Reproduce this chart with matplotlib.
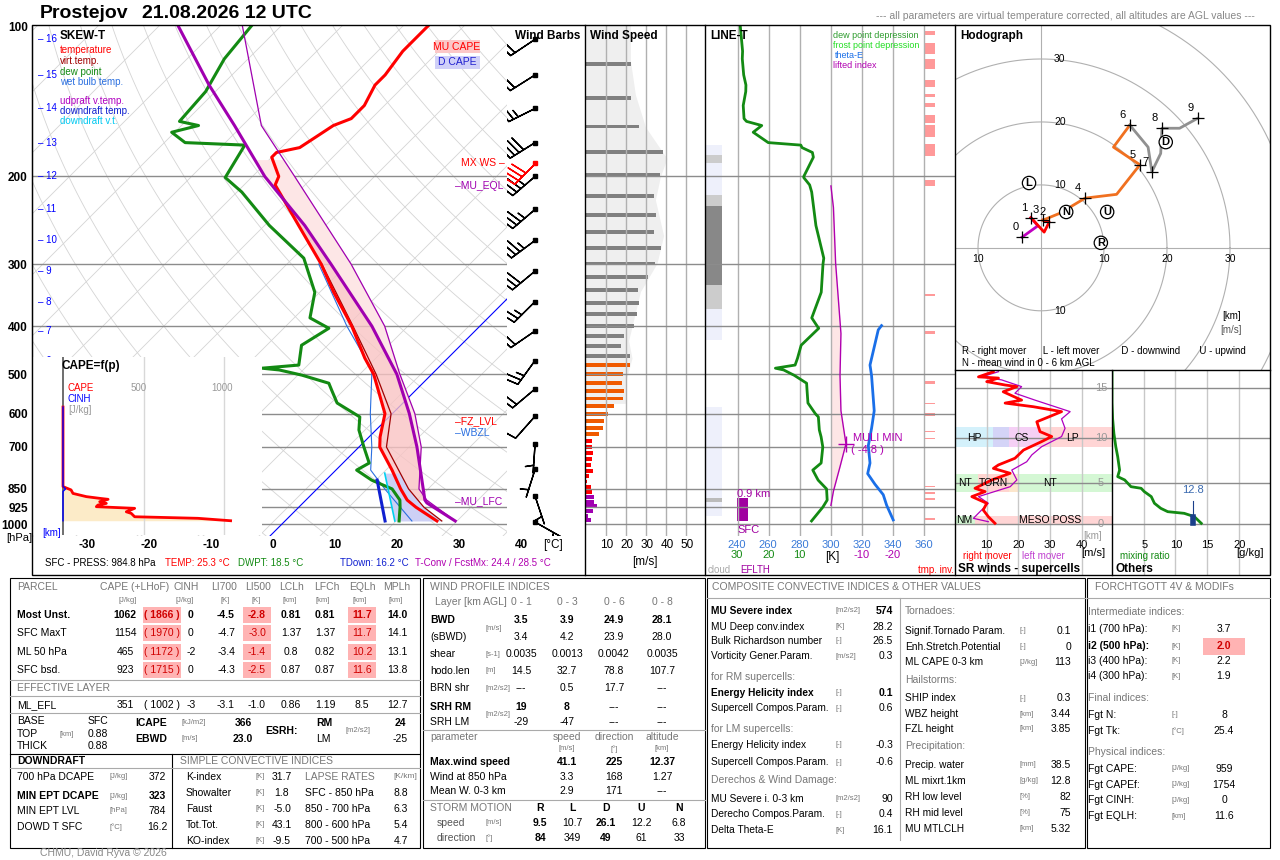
import numpy as np
import matplotlib
matplotlib.use('Agg')
import matplotlib.pyplot as plt
from matplotlib.patches import Rectangle

plt.rcParams['font.family'] = ['Liberation Sans', 'DejaVu Sans']

# ---------------- sounding data ----------------
temp_p = [986, 925, 895, 850, 779, 700, 668, 600, 500, 464, 400, 342, 300, 251, 208, 200,
          183, 179, 175, 165, 158, 153, 144, 131, 125, 112, 99]
temp_t = [26.7, 21.0, 18.4, 15.5, 11.0, 5.2, 3.6, 0.6, -7.7, -11.8, -19.2, -27.7, -34.4, -44.4,
          -54.9, -55.7, -60.0, -60.0, -57.0, -55.9, -55.1, -53.3, -53.3, -54.9, -54.9, -55.9, -55.9]
virt_p = [986, 925, 850, 700, 600, 500, 400, 300]
virt_t = [27.5, 22.3, 16.8, 6.3, 1.6, -7.3, -19.0, -34.3]
dew_p = [986, 925, 895, 850, 816, 779, 754, 700, 647, 609, 571, 538, 521, 502, 490, 486, 479,
         437, 404, 385, 342, 292, 251, 215, 201, 173, 171, 163, 158, 155, 135, 116, 99]
dew_t = [20.5, 18.4, 17.2, 14.1, 9.3, 5.2, 6.1, 2.6, -1.0, -3.0, -9.0, -12.0, -13.6, -19.3,
         -23.9, -27.0, -21.5, -24.3, -22.6, -27.4, -30.8, -38.2, -49.2, -59.2, -64.3, -66.4,
         -76.6, -80.5, -77.2, -81.0, -81.6, -83.9, -84.9]
wetb_p = [986, 850, 779, 700, 600, 490, 400, 300]
wetb_t = [22.6, 12.9, 7.5, 3.9, -1.8, -8.7, -20.0, -34.8]
parcel_p = [986, 907, 895, 700, 600, 500, 400, 300, 251, 200, 158, 131, 99]
parcel_t = [29.7, 22.1, 21.3, 11.3, 4.6, -3.9, -15.9, -32.8, -43.4, -58.0, -71.3, -82.1, -97.2]
parcel2_p = [986, 895, 850, 700, 600, 498, 400, 300, 200, 158, 99]
parcel2_t = [29.7, 21.6, 18.5, 12.0, 5.5, -3.6, -13.8, -29.5, -53.1, -66.9, -86.6]
down_p = [986, 816]
down_t = [18.2, 10.2]
downv_p = [986, 790]
downv_t = [19.8, 10.3]

km_levels = list(range(17))
km_p = [991, 879, 776, 690, 607, 535, 469, 409, 357, 310, 269, 233, 200, 171, 146, 125, 106]

capef_p = [582, 841, 854, 868, 881, 888, 892, 902, 909, 916, 923, 930, 945, 952, 967, 974, 985]
capef_v = [0, 0, 50, 62, 145, 228, 280, 228, 269, 217, 207, 445, 393, 424, 445, 838, 1041]
cinh_p = [582, 840, 850, 860, 985]
cinh_v = [0, 0, 16, 0, 0]

barb_u = [-3, -1.6, 1.3, 0.3, 7.0, 15.7, 14.1, 17.6, 19.2, 24.9, 27, 27, 28, 32, 22, 19, 18]
barb_v = [1.7, 4.8, 4.1, 4.4, 7.9, 13.2, 19.5, 12.1, 19.0, 20.6, 20, 23, 24, 20, 11, 12, 12]
mxws_p, mxws_u, mxws_v = 188, 29, 29

ws_p = [118.7, 139.1, 158.8, 178.5, 198.7, 219.0, 239.1, 258.5, 278.6, 299.1, 318.2, 338.5,
        359.5, 378.7, 399.4, 418.5, 438.7, 459.3, 479.0, 499.6, 520.5, 540.1, 559.4, 579.2,
        600.0, 621.1, 641.5, 659.0, 680.8, 700.5, 719.6, 740.0, 760.4, 781.9, 800.9, 821.2,
        843.7, 861.6, 881.6, 902.1, 919.4, 940.8, 962.7, 981.2]
ws_v = [22.7, 22.7, 26.7, 38.7, 37.2, 34.2, 35.2, 34.2, 37.7, 34.7, 31.2, 26.2, 26.7, 25.7,
        24.2, 19.2, 17.7, 22.2, 22.2, 18.7, 18.2, 19.2, 18.7, 14.2, 11.2, 9.2, 8.7, 6.7,
        3.2, 3.2, 3.7, 3.2, 2.7, 3.7, 1.7, 0.7, 2.7, 3.2, 4.2, 4.2, 5.7, 3.7, 1.2, 2.7]
env_p = [99, 117, 137, 159, 184, 200, 223, 263, 299, 341, 428, 464, 520, 572]
env_v = [22.2, 22.2, 24.7, 29.7, 40.5, 37.2, 34.7, 38.8, 35.5, 27.2, 21.3, 23.0, 19.7, 19.7]

thetae_p = [399, 407, 479, 503, 592, 642, 696, 754, 792, 832, 873, 917, 981]
thetae_k = [332.5, 330.4, 325.1, 326.1, 327.8, 326.1, 324.0, 325.1, 323.6, 328.3, 333.6, 335.8, 340.0]
li_p = [209, 231, 299, 414, 503, 592, 690, 767, 859, 917]
li_v = [0, -0.8, -1.5, -3.2, -2.9, -3.2, -4.8, -2.9, -0.8, 0]
cloud_layers = [(173, 427, '#eef0fb'), (582, 964, '#eef0fb'), (181, 188, '#cccccc'),
                (218, 370, '#cccccc'), (229, 330, '#888888'), (887, 903, '#bbbbbb')]
inversions = [(102.0, 104.1), (108.0, 113.4), (116.2, 121.6), (128.0, 131.9), (136.6, 138.5),
              (142.3, 145.3), (150.8, 156.3), (157.6, 166.3), (172.4, 181.6), (203.7, 209.3),
              (344.4, 347.4), (409.0, 413.9), (515.3, 523.6), (569.8, 574.3), (599.3, 606.0),
              (648.6, 654.1), (670.0, 675.7), (838.3, 843.6), (863.0, 870.0), (887.6, 896.0),
              (970.4, 981.2)]

hodo_h = [0, .5, 1, 1.5, 2, 3, 3.5, 4, 4.5, 5, 5.5, 6, 6.5, 7, 7.5, 8, 8.5, 9]
hodo_u = [-3, -0.5, -1.6, 0.5, 1.3, 0.3, 3.0, 7.0, 12.0, 15.7, 11.5, 14.1, 17.0, 17.6, 19.0, 19.2, 22.0, 24.9]
hodo_v = [1.7, 3.5, 4.8, 2.5, 4.1, 4.4, 5.5, 7.9, 8.5, 13.2, 16.0, 19.5, 16.0, 12.1, 15.0, 19.0, 19.0, 20.6]
motion_lbl = ['L', 'N', 'U', 'R', 'D']
motion_u = [-1.9, 4.0, 10.5, 9.5, 19.8]
motion_v = [10.3, 5.7, 5.7, 0.8, 16.8]

rm_p = [98, 106, 108, 114, 120, 123, 133, 151, 158, 167, 180, 210, 244, 263, 284, 323, 366,
        405, 427, 460, 509, 578, 608, 656, 726, 804, 890, 985]
rm_v = [12.1, 7.4, 13.7, 10.0, 15.8, 19.5, 15.2, 21.0, 15.8, 24.7, 33.6, 25.8, 26.8, 30.5,
        27.3, 21.6, 18.9, 13.7, 12.1, 17.4, 11.6, 6.3, 9.5, 5.3, 10.0, 8.9, 10.5, 12.6]
lm_p = [98, 106, 111, 123, 136, 151, 180, 201, 232, 263, 307, 348, 386, 438, 509, 564, 656,
        726, 804, 913, 961]
lm_v = [13.7, 8.4, 14.7, 21.0, 18.9, 25.2, 36.3, 33.6, 34.7, 33.6, 27.3, 24.2, 22.6, 17.9,
        19.5, 17.4, 7.4, 10.5, 8.4, 5.8, 10.5]
mr_p = [985, 890, 846, 825, 784, 726, 656, 608, 578, 564, 509, 484, 438, 357, 307, 251, 201, 158, 96]
mr_v = [14.1, 13.0, 11.4, 8.8, 7.7, 6.7, 6.2, 5.1, 4.6, 3.0, 2.0, 0.9, 1.2, 0.9, 0.6, 0.3, 0.1, 0.0, 0.0]

# ---------------- helpers ----------------
W, H = 1280, 860
SKEW = 35.4
fig = plt.figure(figsize=(W / 100, H / 100), dpi=100)


def px_axes(x0, y0, x1, y1, **kw):
    return fig.add_axes([x0 / W, 1 - y1 / H, (x1 - x0) / W, (y1 - y0) / H], **kw)


def t(x, y, s, size=7.5, color='black', ha='left', weight='normal', **kw):
    fig.text(x / W, 1 - y / H, s, fontsize=size, color=color, ha=ha, va='center',
             fontweight=weight, **kw)


def rect(x0, y0, x1, y1, fc='none', ec='black', lw=0.8, z=0):
    fig.add_artist(Rectangle((x0 / W, 1 - y1 / H), (x1 - x0) / W, (y1 - y0) / H,
                             transform=fig.transFigure, fc=fc, ec=ec, lw=lw, zorder=z))


def hline(x0, x1, y, color='#aaaaaa', lw=0.8):
    fig.add_artist(plt.Line2D([x0 / W, x1 / W], [1 - y / H] * 2, color=color, lw=lw))


def vline(x, y0, y1, color='black', lw=0.8):
    fig.add_artist(plt.Line2D([x / W] * 2, [1 - y0 / H, 1 - y1 / H], color=color, lw=lw))


def skx(tt, pp):
    return np.asarray(tt, float) + SKEW * np.log(1000 / np.asarray(pp, float))


def clean(ax):
    for s in ax.spines.values():
        s.set_visible(False)
    ax.minorticks_off()
    ax.set_xticks([])
    ax.set_yticks([])


def prof(pgrid, plist, tlist):
    return np.interp(np.log(pgrid), np.log(plist[::-1]), tlist[::-1])


P_BOT, P_TOP = 1057, 99.2
GRID_P = [200, 300, 400, 500, 600, 700, 850, 925, 1000]

# ---------------- skew-T ----------------
ax = px_axes(32, 25, 507, 536)
ax.set_yscale('log')
ax.set_ylim(P_BOT, P_TOP)
ax.set_xlim((32 - 271) / 6.1, (507 - 271) / 6.1)
pp = np.geomspace(1060, 95, 80)
for tt in range(-140, 60, 10):
    ax.plot(skx(tt, pp), pp, color='#d4d4d4', lw=0.6, zorder=1)
for th in range(250, 560, 10):
    ax.plot(skx(th * (pp / 1000) ** 0.286 - 273.15, pp), pp, color='#d4d4d4', lw=0.6, zorder=1)
for p in GRID_P:
    ax.axhline(p, color='#8c8c8c', lw=1, zorder=2)
pz = np.geomspace(1057, 250, 30)
ax.plot(skx(1.8, pz), pz, color='blue', lw=0.8, zorder=3)

# CAPE / D CAPE shading
gp = np.geomspace(895, 208, 120)
ax.fill_betweenx(gp, skx(prof(gp, temp_p, temp_t), gp), skx(prof(gp, parcel_p, parcel_t), gp),
                 color='#f9c4c4', alpha=0.8, lw=0, zorder=3)
gp2 = np.geomspace(895, 185, 120)
ax.fill_betweenx(gp2, skx(prof(gp2, parcel_p, parcel_t), gp2), skx(prof(gp2, parcel2_p, parcel2_t), gp2),
                 color='#fde6e6', lw=0, zorder=3)
gp3 = np.geomspace(986, 790, 30)
ax.fill_betweenx(gp3, skx(prof(gp3, downv_p, downv_t), gp3), skx(prof(gp3, virt_p, virt_t), gp3),
                 color='#cdd0f5', lw=0, zorder=3)

ax.plot(skx(wetb_t, wetb_p), wetb_p, color='#2a6fe0', lw=0.8, zorder=4)
ax.plot(skx(virt_t, virt_p), virt_p, color='#a00000', lw=0.9, zorder=4)
ax.plot(skx(temp_t, temp_p), temp_p, color='red', lw=2.2, zorder=5)
ax.plot(skx(dew_t, dew_p), dew_p, color='#138a13', lw=2.2, zorder=5)
ax.plot(skx(parcel2_t, parcel2_p), parcel2_p, color='#a000b0', lw=0.9, zorder=5)
ax.plot(skx(parcel_t, parcel_p), parcel_p, color='#a000b0', lw=2.2, zorder=5)
ax.plot(skx(downv_t, downv_p), downv_p, color='#00d0f0', lw=1.2, zorder=5)
ax.plot(skx(down_t, down_p), down_p, color='#1020d0', lw=2.2, zorder=5)
ax.minorticks_off()
ax.set_yticks([100, 200, 300, 400, 500, 600, 700, 850, 925, 1000])
ax.set_yticklabels(['100', '200', '300', '400', '500', '600', '700', '850', '925', '1000'],
                   fontsize=8.5, fontweight='bold')
ax.tick_params(axis='y', length=0, pad=3)
ax.set_xticks([])
for s in ['top', 'right', 'bottom']:
    ax.spines[s].set_visible(False)
for k, p in zip(km_levels, km_p):
    ax.text(0.012, p, f'– {k}', transform=ax.get_yaxis_transform(), color='blue', fontsize=7,
            va='center', zorder=8)

# CAPE=f(p) inset
axc = px_axes(33, 357, 262, 535)
axc.set_yscale('log')
axc.set_ylim(1000 * np.exp(-(524 - 535) / 216), 1000 * np.exp(-(524 - 357) / 216))
axc.set_xlim(-30 / 0.161, 199 / 0.161)
axc.set_facecolor('white')
for v in [500, 1000]:
    axc.axvline(v, color='#d8d8d8', lw=1)
axc.axvline(0, color='#555555', lw=1.2)
axc.fill_betweenx(capef_p, 0, capef_v, color='#fcebc8', lw=0)
axc.plot(capef_v, capef_p, color='red', lw=2)
axc.plot(cinh_v, cinh_p, color='blue', lw=1)
clean(axc)

# wind barbs
axb = px_axes(507, 25, 585, 536)
axb.set_yscale('log')
axb.set_ylim(P_BOT, P_TOP)
axb.set_xlim(0, 1)
bsz = dict(spacing=0.18, height=0.55, width=0.25)
axb.barbs([0.36] * len(km_p), km_p, barb_u, barb_v, length=6.5, lw=1.0, pivot='tip', sizes=bsz,
          barb_increments=dict(half=5, full=10, flag=50))
axb.barbs([0.36], [mxws_p], [mxws_u], [mxws_v], length=6.5, lw=1.0, color='red', pivot='tip', sizes=bsz)
axb.plot([0.36] * len(km_p), km_p, 'ks', ms=3)
axb.plot([0.36], [mxws_p], 's', color='red', ms=3)
clean(axb)

# wind speed
axw = px_axes(585, 25, 705, 536)
axw.set_yscale('log')
axw.set_ylim(P_BOT, P_TOP)
axw.set_xlim(-0.5, 59.5)
axw.fill_betweenx(env_p, 0, env_v, color='#efefef', lw=0)
for v in [10, 20, 30, 40, 50]:
    axw.axvline(v, color='#b0b0b0', lw=1)
for p in GRID_P:
    axw.axhline(p, color='#8c8c8c', lw=1)
for p, v in zip(ws_p, ws_v):
    c = '#808080' if p < 470 else ('#f05a00' if p < 670 else ('red' if p < 870 else '#a000b0'))
    axw.barh(p, v, height=p * 0.017, color=c, left=0)
clean(axw)
for v in [10, 20, 30, 40, 50]:
    t(587 + 2 * v, 545, str(v), size=8.5, ha='center')
t(645, 562, '[m/s]', size=8.5, ha='center')

# LINE-T
axl = px_axes(705, 25, 955, 536)
axl.set_yscale('log')
axl.set_ylim(P_BOT, P_TOP)
axl.set_xlim(219.1, 379.7)
for v in range(240, 380, 20):
    axl.axvline(v, color='#b0b0b0', lw=1)
for p in GRID_P:
    axl.axhline(p, color='#8c8c8c', lw=1)
for p0, p1, c in cloud_layers:
    axl.fill_between([219.1, 230.0], p0, p1, color=c, lw=0)
for p0, p1 in inversions:
    axl.fill_between([359.7, 366.8], p0, p1, color='#f99', lw=0)
axl.fill_between([239.6, 246.7], 887, 986, color='#a000a0', lw=0)
# dew point depression from the temperature and dew point profiles
allp = np.array(sorted(set(temp_p) | set(dew_p), reverse=True), float)
dd = prof(allp, temp_p, temp_t) - prof(allp, dew_p, dew_t)
axl.fill_betweenx(li_p, 300, 300 - 2.011 * np.array(li_v), color='#fde6e6', lw=0)
axl.plot(300 - 2.011 * dd, allp, color='#138a13', lw=2)
axl.plot(300 - 2.011 * np.array(li_v), li_p, color='#b000b0', lw=1)
axl.plot(thetae_k, thetae_p, color='#1a6fe8', lw=2)
axl.plot([309.7], [690], '+', color='#b000b0', ms=12, mew=1)
clean(axl)
for v in range(240, 380, 20):
    t(737 + (v - 240) * 1.5567, 545, str(v), size=8, color='#3a7ad8', ha='center')
for v, lab in zip([240, 260, 280], ['30', '20', '10']):
    t(737 + (v - 240) * 1.5567, 555, lab, size=8, color='#138a13', ha='center')
for v, lab in zip([320, 340], ['-10', '-20']):
    t(737 + (v - 240) * 1.5567, 555, lab, size=8, color='#b000b0', ha='center')
t(832, 557, '[K]', size=8.5, ha='center')
t(708, 570, 'cloud', size=7, color='#aaaaaa')
t(740, 570, 'EFLTH', size=7, color='#a000a0')
t(918, 570, 'tmp. inv.', size=7, color='red')
t(737, 494, '0.9 km', size=8, color='#a000a0')
t(737, 530, 'SFC', size=8, color='#a000a0')
t(853, 438, 'MULI MIN', size=8, color='#b000b0')
t(851, 450, '( -4.8 )', size=8, color='#b000b0')
t(833, 35, 'dew point depression', size=6.5, color='#2e9c2e')
t(833, 45, 'frost point depression', size=6.5, color='#22dd22')
t(835, 55, 'theta-E', size=6.5, color='#1a6fe8')
t(833, 65, 'lifted index', size=6.5, color='#b000b0')

# hodograph
axh = px_axes(955, 25, 1270, 370)
axh.set_xlim(-13.65, 36.35)
axh.set_ylim(-19.4, 35.4)
ang = np.linspace(0, 2 * np.pi, 200)
for r in [10, 20, 30, 40]:
    axh.plot(r * np.cos(ang), r * np.sin(ang), color='#b0b0b0', lw=0.8)
axh.axhline(0, color='#b0b0b0', lw=0.8)
axh.axvline(0, color='#b0b0b0', lw=0.8)
hh = np.array(hodo_h)
for lo, hi, c in [(0, 1, '#c000c0'), (1, 3, 'red'), (3, 6, '#f07020'), (6, 9, '#909090')]:
    m = (hh >= lo) & (hh <= hi)
    axh.plot(np.array(hodo_u)[m], np.array(hodo_v)[m], color=c, lw=2)
for h, u, v in zip(hodo_h, hodo_u, hodo_v):
    if float(h).is_integer():
        axh.plot(u, v, '+', color='black', ms=9, mew=0.9)
        axh.text(u - 0.6, v + 0.8, str(int(h)), fontsize=8, ha='right', va='bottom')
for lab, u, v in zip(motion_lbl, motion_u, motion_v):
    axh.text(u, v, lab, fontsize=8, ha='center', va='center', fontweight='bold',
             bbox=dict(boxstyle='circle,pad=0.15', fc='white', ec='black', lw=0.9))
for r in [10, 20, 30]:
    axh.text(3, r, str(r), fontsize=7.5, ha='center', va='center')
axh.text(3, -10, '10', fontsize=7.5, ha='center', va='center')
for u in [-10, 10, 20, 30]:
    axh.text(u, -1.8, str(abs(u)), fontsize=7.5, ha='center', va='center')
clean(axh)
t(960, 36, 'Hodograph', size=8.5, weight='bold')
t(1222, 316, '[km]', size=7)
t(1220, 330, '[m/s]', size=7, color='#555555')
t(962, 351, 'R - right mover      L - left mover        D - downwind       U - upwind', size=7)
t(962, 363, 'N - mean wind in 0 - 6 km AGL', size=7)

# SR winds
SR_BOT, SR_TOP = 2163, 95.5
axs = px_axes(955, 370, 1112, 575)
axs.set_yscale('log')
axs.set_ylim(SR_BOT, SR_TOP)
axs.set_xlim(0, 49.5)
for p0, p1, x0, x1, c in [(228.5, 309.8, 0, 12.1, '#d4f1fb'), (228.5, 309.8, 12.1, 17, '#d4d4f7'),
                          (228.5, 309.8, 17, 26.8, '#f5d0f5'), (228.5, 309.8, 26.8, 49.5, '#ffd5d5'),
                          (465, 609, 0, 7.4, '#d4f7d4'), (465, 609, 7.4, 17, '#ffd5d0'),
                          (465, 609, 17, 20, '#fce6cc'), (465, 609, 20, 49.5, '#d4f7d4'),
                          (877, 991, 0, 6.3, '#d4f7d4'), (877, 991, 6.3, 49.5, '#ffd5d5')]:
    axs.fill_between([x0, x1], p0, p1, color=c, lw=0)
for v in [10, 20, 30, 40]:
    axs.axvline(v, color='#c8c8c8', lw=1)
for k in [0, 5, 10, 15]:
    axs.axhline(km_p[k], color='#8c8c8c', lw=1)
    axs.text(46, km_p[k], str(k), color='#999999', fontsize=8, ha='center', va='center')
axs.plot(lm_v, lm_p, color='#b000c0', lw=0.9)
axs.plot(rm_v, rm_p, color='red', lw=2)
for s, x, p in [('HP', 6, 268), ('CS', 21, 268), ('LP', 37, 268), ('NT', 3, 532), ('TORN', 12, 532),
                ('NT', 30, 532), ('NM', 3, 935), ('MESO POSS', 30, 935)]:
    axs.text(x, p, s, fontsize=7.5, ha='center', va='center')
clean(axs)
for v in [10, 20, 30, 40]:
    t(955 + 3.17 * v, 545, str(v), size=8, ha='center')
t(1093, 536, '[km]', size=7, color='#999999', ha='center')
t(1093, 553, '[m/s]', size=8, ha='center')
t(963, 556, 'right mover', size=7, color='red')
t(1022, 556, 'left mover', size=7, color='#c040d0')
t(958, 569, 'SR winds - supercells', size=8.5, weight='bold')

# Others
axo = px_axes(1112, 370, 1270, 575)
axo.set_yscale('log')
axo.set_ylim(SR_BOT, SR_TOP)
axo.set_xlim(0, 24.95)
for v in [5, 10, 15, 20]:
    axo.axvline(v, color='#c8c8c8', lw=1)
for k in [0, 5, 10, 15]:
    axo.axhline(km_p[k], color='#8c8c8c', lw=1)
axo.plot(mr_v, mr_p, color='#138a13', lw=2)
axo.plot([12.8, 12.8], [895, 985], color='#1a3f8a', lw=4)
axo.plot([12.8, 12.8], [700, 895], color='#1a3f8a', lw=0.8)
axo.text(12.8, 640, '12.8', color='#3a6ab0', fontsize=8, ha='center', va='bottom')
clean(axo)
for v in [5, 10, 15, 20]:
    t(1112.7 + 6.33 * v, 545, str(v), size=8, ha='center')
t(1250, 553, '[g/kg]', size=8, ha='center')
t(1120, 556, 'mixing ratio', size=7, color='#138a13')
t(1115, 569, 'Others', size=8.5, weight='bold')

# frames
rect(32, 25, 1270, 575, lw=1, z=5)
for x in [585, 705, 955]:
    vline(x, 25, 575, lw=1)
hline(955, 1270, 370, color='black', lw=1)
vline(1112, 370, 575, lw=1)

# skew-T texts
t(40, 13, 'Prostejov', size=14, weight='bold')
t(142, 13, '21.08.2026 12 UTC', size=14, weight='bold')
t(1255, 16, '--- all parameters are virtual temperature corrected, all altitudes are AGL values ---',
  size=7.5, color='#888888', ha='right')
t(60, 36, 'SKEW-T', size=8.5, weight='bold')
for y, s, c in [(50, 'temperature', 'red'), (61, 'virt.temp.', '#a00000'), (72, 'dew point', '#138a13'),
                (82, 'wet bulb temp.', '#2a6fe0'), (101, 'udpraft v.temp.', '#b000c0'),
                (111, 'downdraft temp.', '#1020d0'), (121, 'downdraft v.t.', '#00c8f0')]:
    t(60, y, s, size=7, color=c)
rect(435, 40, 480, 53, fc='#fcc8c8', ec='none', z=6)
t(457, 47, 'MU CAPE', size=7.5, color='red', ha='center', zorder=7)
rect(435, 56, 480, 69, fc='#d0d0f8', ec='none', z=6)
t(457, 62, 'D CAPE', size=7.5, color='#2020d0', ha='center', zorder=7)
t(515, 36, 'Wind Barbs', size=8.5, weight='bold')
t(590, 36, 'Wind Speed', size=8.5, weight='bold')
t(710, 36, 'LINE-T', size=8.5, weight='bold')
t(62, 366, 'CAPE=f(p)', size=8.5, weight='bold')
t(68, 388, 'CAPE', size=7, color='red')
t(68, 399, 'CINH', size=7, color='blue')
t(68, 410, '[J/kg]', size=7, color='#999999')
t(139, 388, '500', size=7, color='#999999', ha='center')
t(222, 388, '1000', size=7, color='#999999', ha='center')
t(461, 163, 'MX WS –', size=7.5, color='red')
t(455, 186, '–MU_EQL', size=7.5, color='#a000b0')
t(455, 421, '–FZ_LVL', size=7.5, color='red')
t(455, 433, '–WBZL', size=7.5, color='#2a6fe0')
t(455, 501, '–MU_LFC', size=7.5, color='#a000b0')
t(6, 538, '[hPa]', size=8)
t(42, 533, '[km]', size=7, color='blue')
for k, x in zip(range(-30, 50, 10), range(87, 530, 62)):
    t(x, 545, str(k), size=8.5, weight='bold', ha='center')
t(553, 545, '[°C]', size=8.5, ha='center')
t(45, 563, 'SFC - PRESS: 984.8 hPa', size=7)
t(165, 563, 'TEMP: 25.3 °C', size=7, color='red')
t(238, 563, 'DWPT: 18.5 °C', size=7, color='#138a13')
t(340, 563, 'TDown: 16.2 °C', size=7, color='#1020d0')
t(415, 563, 'T-Conv / FcstMx: 24.4 / 28.5 °C', size=7, color='#b000b0')

# ---------------- tables ----------------
G = '#777777'
US = 5.5
rect(10, 578, 420, 848)
rect(423, 578, 705, 848)
rect(707, 578, 1085, 848)
rect(1087, 578, 1270, 848)

# parcel block
t(17, 587, 'PARCEL', color=G)
for x, s in [(135, 'CAPE (+LHoF)'), (186, 'CINH'), (224, 'LI700'), (258, 'LI500'), (292, 'LCLh'),
             (327, 'LFCh'), (362, 'EQLh'), (397, 'MPLh')]:
    t(x, 587, s, color=G, ha='center')
for x, s in [(128, '[J/kg]'), (185, '[J/kg]'), (225, '[K]'), (256, '[K]'), (290, '[km]'), (323, '[km]'),
             (360, '[km]'), (396, '[km]')]:
    t(x, 600, s, color=G, size=US, ha='center')
cols = [125, 162, 191, 226, 257, 291, 325, 362, 397]
parcel_rows = [('Most Unst.', ['1062', '( 1866 )', '0', '-4.5', '-2.8', '0.81', '0.81', '11.7', '14.0']),
               ('SFC MaxT', ['1154', '( 1970 )', '0', '-4.7', '-3.0', '1.37', '1.37', '11.7', '14.1']),
               ('ML 50 hPa', ['465', '( 1172 )', '-2', '-3.4', '-1.4', '0.8', '0.82', '10.2', '13.1']),
               ('SFC bsd.', ['923', '( 1715 )', '0', '-4.3', '-2.5', '0.87', '0.87', '11.6', '13.8'])]
for i, (name, vals) in enumerate(parcel_rows):
    y = 615 + 18.3 * i
    w = 'bold' if i == 0 else 'normal'
    t(17, y, name, weight=w)
    for j, (x, v) in enumerate(zip(cols, vals)):
        if j in (1, 4, 7):
            hw = 19 if j == 1 else 14
            rect(x - hw, y - 8, x + hw, y + 8, fc='#ffb3b3', ec='none')
            t(x, y, v, ha='center', color='#d00000', weight=w)
        else:
            t(x, y, v, ha='center', weight=w)
hline(10, 420, 680)
t(17, 688, 'EFFECTIVE LAYER', color=G)
hline(10, 420, 696)
t(17, 705, 'ML_EFL')
for x, v in zip(cols, ['351', '( 1002 )', '-3', '-3.1', '-1.0', '0.86', '1.19', '8.5', '12.7']):
    t(x, 705, v, ha='center')
hline(10, 420, 713)
t(17, 721, 'BASE'); t(98, 721, 'SFC', ha='center')
t(17, 734, 'TOP'); t(60, 734, '[km]', size=US, color=G); t(98, 734, '0.88', ha='center')
t(17, 746, 'THICK'); t(98, 746, '0.88', ha='center')
t(135, 723, 'ICAPE', weight='bold'); t(182, 723, '[kJ/m2]', size=US, color=G); t(243, 723, '366', weight='bold', ha='center')
t(135, 739, 'EBWD', weight='bold'); t(182, 739, '[m/s]', size=US, color=G); t(243, 739, '23.0', weight='bold', ha='center')
t(265, 731, 'ESRH:', weight='bold'); t(316, 723, 'RM', weight='bold'); t(316, 739, 'LM')
t(345, 731, '[m2/s2]', size=US, color=G); t(400, 723, '24', weight='bold', ha='center'); t(400, 739, '-25', ha='center')
hline(10, 420, 754, color='black')
vline(172, 754, 848)
t(17, 761, 'DOWNDRAFT', weight='bold')
t(180, 761, 'SIMPLE CONVECTIVE INDICES', color=G)
hline(10, 420, 768)
for y, n, u, v, w in [(777, '700 hPa DCAPE', '[J/kg]', '372', 'normal'), (796, 'MIN EPT DCAPE', '[J/kg]', '323', 'bold'),
                      (811, 'MIN EPT LVL', '[hPa]', '784', 'normal'), (827, 'DOWD T SFC', '[°C]', '16.2', 'normal')]:
    t(17, y, n, weight=w); t(110, y, u, size=US, color=G); t(157, y, v, weight=w, ha='center')
for y, n, v, ln, lv in [(777, 'K-index', '31.7', 'LAPSE RATES', ''), (793, 'Showalter', '1.8', 'SFC - 850 hPa', '8.8'),
                        (809, 'Faust', '-5.0', '850 - 700 hPa', '6.3'), (825, 'Tot.Tot.', '43.1', '800 - 600 hPa', '5.4'),
                        (841, 'KO-index', '-9.5', '700 - 500 hPa', '4.7')]:
    t(186, y, n); t(256, y, '[K]', size=US, color=G); t(282, y, v, ha='center')
    t(305, y, ln, color=G if lv == '' else 'black'); t(401, y, lv, ha='center')
t(393, 777, '[K/km]', size=6, color=G)

# wind profile block
t(430, 587, 'WIND PROFILE INDICES', color=G)
t(435, 602, 'Layer [km AGL]', color=G)
wcols = [521, 567, 614, 662]
for x, s in zip(wcols, ['0 - 1', '0 - 3', '0 - 6', '0 - 8']):
    t(x, 602, s, color=G, ha='center')
for y, n, u, vals, w in [(620, 'BWD', '', ['3.5', '3.9', '24.9', '28.1'], 'bold'),
                         (637, '(sBWD)', '', ['3.4', '4.2', '23.9', '28.0'], 'normal'),
                         (654, 'shear', '[s-1]', ['0.0035', '0.0013', '0.0042', '0.0035'], 'normal'),
                         (671, 'hodo.len', '[m]', ['14.5', '32.7', '78.8', '107.7'], 'normal'),
                         (688, 'BRN shr', '[m2/s2]', ['---', '0.5', '17.7', '---'], 'normal'),
                         (707, 'SRH RM', '', ['19', '8', '---', '---'], 'bold'),
                         (722, 'SRH LM', '', ['-29', '-47', '---', '---'], 'normal')]:
    t(430, y, n, weight=w)
    t(485, y, u, size=US, color=G)
    for j, (x, v) in enumerate(zip(wcols, vals)):
        ww = 'bold' if (w == 'bold' and (n == 'BWD' or j < 2)) else 'normal'
        t(x, y, v, ha='center', weight=ww)
t(485, 629, '[m/s]', size=US, color=G)
t(485, 714, '[m2/s2]', size=US, color=G)
hline(423, 705, 730)
t(430, 737, 'parameter', color=G)
for x, s, u in zip(wcols[1:], ['speed', 'direction', 'altitude'], ['[m/s]', '[°]', '[km]']):
    t(x, 737, s, color=G, ha='center'); t(x, 749, u, size=US, color=G, ha='center')
for y, n, vals, w in [(762, 'Max.wind speed', ['41.1', '225', '12.37'], 'bold'),
                      (777, 'Wind at 850 hPa', ['3.3', '168', '1.27'], 'normal'),
                      (791, 'Mean W. 0-3 km', ['2.9', '171', '---'], 'normal')]:
    t(430, y, n, weight=w)
    for x, v in zip(wcols[1:], vals):
        t(x, y, v, ha='center', weight=w)
hline(423, 705, 800)
t(430, 808, 'STORM MOTION', color=G)
mcols = [540, 572, 606, 641, 679]
for x, s in zip(mcols, ['R', 'L', 'D', 'U', 'N']):
    t(x, 808, s, weight='bold', ha='center')
for y, n, u, vals in [(823, 'speed', '[m/s]', ['9.5', '10.7', '26.1', '12.2', '6.8']),
                      (838, 'direction', '[°]', ['84', '349', '49', '61', '33'])]:
    t(437, y, n, color='#555555'); t(485, y, u, size=US, color=G)
    for j, (x, v) in enumerate(zip(mcols, vals)):
        t(x, y, v, ha='center', weight='bold' if j in (0, 2) else 'normal')

# composite block
t(712, 587, 'COMPOSITE CONVECTIVE INDICES & OTHER VALUES', color=G)
hline(707, 1085, 598)
vline(900, 598, 840, color='#aaaaaa')
left_rows = [(611, 'MU Severe index', '[m2/s2]', '574', 'bold'), (627, 'MU Deep conv.index', '[K]', '28.2', 'normal'),
             (641, 'Bulk Richardson number', '[-]', '26.5', 'normal'), (656, 'Vorticity Gener.Param.', '[m/s2]', '0.3', 'normal'),
             (677, 'for RM supercells:', None, '', 'normal'), (693, 'Energy Helicity index', '[-]', '0.1', 'bold'),
             (708, 'Supercell Compos.Param.', '[-]', '0.6', 'normal'), (729, 'for LM supercells:', None, '', 'normal'),
             (745, 'Energy Helicity index', '[-]', '-0.3', 'normal'), (762, 'Supercell Compos.Param.', '[-]', '-0.6', 'normal'),
             (780, 'Derechos & Wind Damage:', None, '', 'normal'), (799, 'MU Severe i. 0-3 km', '[m2/s2]', '90', 'normal'),
             (814, 'Derecho Compos.Param.', '[-]', '0.4', 'normal'), (830, 'Delta Theta-E', '[K]', '16.1', 'normal')]
right_rows = [(611, 'Tornadoes:', None, ''), (631, 'Signif.Tornado Param.', '[-]', '0.1'),
              (647, 'Enh.Stretch.Potential', '[-]', '0'), (662, 'ML CAPE 0-3 km', '[J/kg]', '113'),
              (680, 'Hailstorms:', None, ''), (698, 'SHIP index', '[-]', '0.3'), (714, 'WBZ height', '[km]', '3.44'),
              (729, 'FZL height', '[km]', '3.85'), (746, 'Precipitation:', None, ''), (765, 'Precip. water', '[mm]', '38.5'),
              (781, 'ML mixrt.1km', '[g/kg]', '12.8'), (797, 'RH low level', '[%]', '82'),
              (813, 'RH mid level', '[%]', '75'), (829, 'MU MTLCLH', '[km]', '5.32')]
for y, n, u, v, w in left_rows:
    if u is None:
        t(711, y, n, color=G)
    else:
        t(711, y, n, weight=w, size=7.3); t(835, y, u, size=US, color=G); t(893, y, v, ha='right', weight=w)
for y, n, u, v in right_rows:
    if u is None:
        t(905, y, n, color=G)
    else:
        t(905, y, n, size=7.3); t(1020, y, u, size=US, color=G); t(1071, y, v, ha='right')

# Forchtgott block
t(1095, 587, 'FORCHTGOTT 4V & MODIFs', color=G)
hline(1087, 1270, 598)
rect(1203, 638, 1245, 655, fc='#ffb3b3', ec='none')
for y, n, u, v, w in [(612, 'Intermediate indices:', None, '', 'normal'), (629, 'i1 (700 hPa):', '[K]', '3.7', 'normal'),
                      (646, 'i2 (500 hPa):', '[K]', '2.0', 'bold'), (661, 'i3 (400 hPa):', '[K]', '2.2', 'normal'),
                      (676, 'i4 (300 hPa):', '[K]', '1.9', 'normal'), (698, 'Final indices:', None, '', 'normal'),
                      (715, 'Fgt N:', '[-]', '8', 'normal'), (731, 'Fgt Tk:', '[°C]', '25.4', 'normal'),
                      (752, 'Physical indices:', None, '', 'normal'), (769, 'Fgt CAPE:', '[J/kg]', '959', 'normal'),
                      (785, 'Fgt CAPEf:', '[J/kg]', '1754', 'normal'), (800, 'Fgt CINH:', '[J/kg]', '0', 'normal'),
                      (816, 'Fgt EQLH:', '[km]', '11.6', 'normal')]:
    if u is None:
        t(1088, y, n, color=G)
    else:
        t(1088, y, n, weight=w); t(1172, y, u, size=US, color=G)
        t(1224, y, v, ha='center', weight=w, color='#d00000' if w == 'bold' else 'black')

t(40, 853, 'CHMU, David Rýva © 2026', size=7.5, color='#888888')

fig.savefig('out.png', dpi=100)
